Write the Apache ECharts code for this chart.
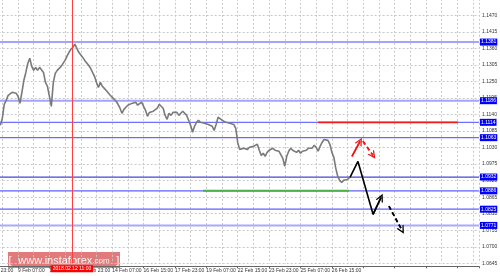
<!DOCTYPE html>
<html><head><meta charset="utf-8">
<script src="https://cdn.jsdelivr.net/npm/echarts@6/dist/echarts.min.js"></script>
<style>html,body{margin:0;padding:0;background:#fff}#c{width:500px;height:276px}</style>
</head><body><div id="c"></div>
<script>
// ---- data ----
const priceStartBar = 14;
const priceStepBar = 2;
const priceValues = [
1.1104,1.1127,1.1174,1.1187,1.1204,1.1201,1.1214,1.1220,1.1211,1.1201,
1.1177,1.1214,1.1254,1.1280,1.1310,1.1327,1.1300,1.1287,1.1297,1.1287,
1.1297,1.1294,1.1280,1.1247,1.1234,1.1201,1.1167,1.1247,1.1277,1.1287,
1.1290,1.1300,1.1310,1.1320,1.1334,1.1347,1.1357,1.1364,1.1374,1.1360,
1.1347,1.1344,1.1330,1.1320,1.1317,1.1304,1.1294,1.1280,1.1267,1.1247,
1.1230,1.1247,1.1234,1.1227,1.1220,1.1217,1.1204,1.1201,1.1191,1.1184,
1.1174,1.1161,1.1144,1.1157,1.1164,1.1171,1.1174,1.1177,1.1174,1.1181,
1.1171,1.1174,1.1181,1.1187,1.1154,1.1134,1.1147,1.1144,1.1151,1.1157,
1.1161,1.1174,1.1177,1.1161,1.1137,1.1124,1.1144,1.1137,1.1147,1.1141,
1.1147,1.1137,1.1144,1.1151,1.1144,1.1137,1.1141,1.1104,1.1081,1.1101,
1.1114,1.1121,1.1114,1.1117,1.1111,1.1114,1.1107,1.1111,1.1101,1.1087,
1.1107,1.1131,1.1137,1.1121,1.1117,1.1114,1.1117,1.1111,1.1114,1.1107,
1.1094,1.1047,1.1024,1.1018,1.1028,1.1031,1.1024,1.1031,1.1028,1.1034,
1.1028,1.1041,1.1021,1.1004,1.1011,1.1001,1.1014,1.1021,1.1024,1.1028,
1.1021,1.1024,1.1018,1.1021,1.0994,1.0968,1.1001,1.1018,1.1028,1.1021,
1.1024,1.1014,1.1021,1.1011,1.1018,1.1024,1.1021,1.1028,1.1031,1.1028,
1.1038,1.1031,1.1018,1.1034,1.1047,1.1057,1.1061,1.1054,1.1041,1.1014,
1.0998,1.0961,1.0934,1.0921,1.0914,1.0921,1.0918,1.0924,1.0931
];
const xTickBars = [0, 32, 64, 96, 128, 160, 192, 224, 256, 288, 320, 352];
const xTickTexts = ['8 Feb 23:00','9 Feb 07:00','12 Feb 15:00','13 Feb 23:00','14 Feb 07:00','16 Feb 15:00','17 Feb 23:00','19 Feb 07:00','22 Feb 15:00','23 Feb 23:00','25 Feb 07:00','26 Feb 15:00'];
const levelValues = [1.1381, 1.1186, 1.1114, 1.1063, 1.0932, 1.0886, 1.0825, 1.0771];
const levelColors = ['#a3a3ff', '#a3a3ff', '#7070ff', '#6a6aff', '#4646d8', '#6060ff', '#6060ff', '#a8a8ff'];
const levelWidths = [2, 2, 1.2, 1.2, 1.2, 1.2, 1.2, 2];
const redLevelValue = 1.1114, redLevelFrom = 338, redLevelTo = 480.5;
const greenLevelValue = 1.0886, greenLevelFrom = 220.6, greenLevelTo = 369.4;
const cursorBar = 87, cursorText = '2018.02.12 11:00';
const blackArrowX = [370.5, 378.6, 394, 402.1];
const blackArrowY = [1.0931, 1.0984, 1.0808, 1.0864];
const blackDashX = [410.2, 423.5];
const blackDashY = [1.0835, 1.0755];
const redUpX = [372.5, 380.7];
const redUpY = [1.1001, 1.1051];
const redDownX = [383.7, 394];
const redDownY = [1.1051, 1.1004];

// ---- build ----
const X_MIN = 0, X_MAX = 502;
const priceData = priceValues.map((p, i) => [priceStartBar + i * priceStepBar, p]);
const xLabelMap = {};
xTickBars.forEach((b, i) => { xLabelMap[b] = xTickTexts[i]; });
const pts = (xs, ys) => xs.map((x, i) => [x, ys[i]]);
const chevron = 'path://M0,10 L5,0 L10,10 L8.2,10 L5,3.6 L1.8,10 Z';
const FONT = 'Liberation Sans';

const levelSeries = levelValues.map((v, i) => ({
  type: 'line', data: [[X_MIN, v], [X_MAX, v]], showSymbol: false, silent: true, animation: false, z: 2,
  lineStyle: { color: levelColors[i], width: levelWidths[i], type: 'solid' },
  endLabel: { show: true, formatter: () => v.toFixed(4), color: '#fff', backgroundColor: '#0000ff',
    fontSize: 5, fontFamily: FONT, padding: [1, 1, 1, 1], distance: 1 }
}));

function segSeries(x1, x2, v, color, width) {
  return { type: 'line', data: [[x1, v], [x2, v]], showSymbol: false, silent: true, animation: false, z: 3,
    lineStyle: { color: color, width: width, type: 'solid' } };
}

function arrowSeries(xs, ys, color, dashed) {
  const d = pts(xs, ys);
  const n = d.length;
  return {
    type: 'line', data: d, showSymbol: false, silent: true, animation: false, z: 5,
    lineStyle: { color: color, width: 1.6, type: dashed ? [4, 3] : 'solid' },
    markLine: {
      silent: true, animation: false,
      symbol: ['none', chevron], symbolSize: [8, 8],
      lineStyle: { color: color, width: 1.6, type: dashed ? [4, 3] : 'solid' },
      label: { show: false },
      data: [[{ coord: d[n - 2] }, { coord: d[n - 1] }]]
    }
  };
}

const chart = echarts.init(document.getElementById('c'), null, { renderer: 'canvas' });
chart.setOption({
  animation: false,
  backgroundColor: '#ffffff',
  grid: { left: -13.4, right: 21, top: -1.2, bottom: 12.7, outerBoundsMode: 'none', containLabel: false },
  xAxis: [
    { type: 'value', min: X_MIN, max: X_MAX, interval: 32, position: 'bottom', offset: 3,
      axisLine: { show: true, lineStyle: { color: '#666', width: 1 } },
      axisTick: { show: true, length: 2, lineStyle: { color: '#666' } },
      axisLabel: { formatter: v => xLabelMap[v] || '', align: 'left', fontSize: 5, fontFamily: FONT, color: '#333', margin: 2 },
      splitLine: { show: false } },
    { type: 'value', min: X_MIN, max: X_MAX, interval: 16, position: 'bottom',
      axisLine: { show: false }, axisTick: { show: false }, axisLabel: { show: false },
      splitLine: { show: true, lineStyle: { color: '#c8c8c8', width: 1, type: [2, 2] } } }
  ],
  yAxis: {
    type: 'value', position: 'right', min: 1.0645, max: 1.1525, interval: 0.0055,
    axisLine: { show: true, lineStyle: { color: '#666', width: 1 } },
    axisTick: { show: true, length: 2, lineStyle: { color: '#666' } },
    axisLabel: { formatter: v => v.toFixed(4), fontSize: 5, fontFamily: FONT, color: '#333', margin: 3 },
    splitLine: { show: true, lineStyle: { color: '#c8c8c8', width: 1, type: [2, 2] } }
  },
  series: levelSeries.concat([
    segSeries(redLevelFrom, redLevelTo, redLevelValue, '#ee1c1c', 1.6),
    segSeries(greenLevelFrom, greenLevelTo, greenLevelValue, '#4cb04c', 2),
    {
      type: 'line', data: priceData, showSymbol: false, silent: true, animation: false, z: 4,
      lineStyle: { color: '#7a7a7a', width: 1.6 },
      markLine: {
        silent: true, animation: false, symbol: ['none', 'none'],
        data: [
          { xAxis: cursorBar, lineStyle: { color: '#ff4040', width: 1, type: 'solid' },
            label: { show: true, position: 'start', formatter: cursorText, color: '#fff', backgroundColor: '#ff0000',
              fontSize: 5, fontFamily: FONT, padding: [1, 2, 1, 2], distance: 2 } }
        ]
      }
    },
    arrowSeries(blackArrowX, blackArrowY, '#000000', false),
    arrowSeries(blackDashX, blackDashY, '#000000', true),
    arrowSeries(redUpX, redUpY, '#ee1c1c', false),
    arrowSeries(redDownX, redDownY, '#ee1c1c', true)
  ]),
  graphic: [{
    type: 'group', left: 8, top: 252, z: 100,
    children: [
      { type: 'rect', shape: { x: 0, y: 0, width: 112, height: 16 }, style: { fill: 'rgba(214,72,72,0.72)' } },
      { type: 'text', x: 56, y: 8.5, style: {
          text: '{b|[}  {a|www.instaforex}{c|.com}  {b|]}', align: 'center', verticalAlign: 'middle',
          rich: {
            a: { fontSize: 11, fontFamily: FONT, fill: 'rgba(255,255,255,0.92)' },
            c: { fontSize: 8, fontFamily: FONT, fill: 'rgba(255,255,255,0.92)' },
            b: { fontSize: 11, fontFamily: FONT, fill: 'rgba(255,255,255,0.92)' }
          } } }
    ]
  }]
});
</script>
</body></html>
